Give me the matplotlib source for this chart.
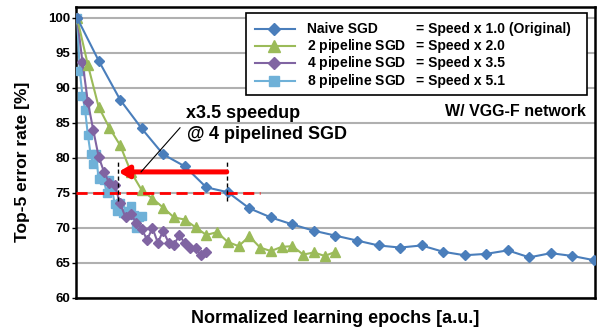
import numpy as np
import matplotlib
matplotlib.use('Agg')
import matplotlib.pyplot as plt
from matplotlib.patches import Rectangle

plt.rcParams['font.family'] = ['Liberation Sans', 'DejaVu Sans']
plt.rcParams['font.weight'] = 'bold'
plt.rcParams['mathtext.fontset'] = 'custom'
plt.rcParams['mathtext.it'] = 'Liberation Sans:italic:bold'
plt.rcParams['mathtext.rm'] = 'Liberation Sans:bold'

# 数据 (epoch 轴为归一化值)
naive = [100, 93.9, 88.3, 84.2, 80.5, 78.8, 75.8, 75.1, 72.8, 71.5, 70.5, 69.6, 68.9,
         68.2, 67.5, 67.2, 67.5, 66.6, 66.1, 66.3, 66.8, 65.8, 66.4, 66.0, 65.4]
pipe2 = [100, 93.3, 87.3, 84.3, 81.8, 78.0, 75.4, 74.2, 72.9, 71.5, 71.2, 70.1, 69.0,
         69.4, 68.0, 67.4, 68.8, 67.2, 66.7, 67.3, 67.4, 66.2, 66.5, 66.0, 66.6]
pipe4 = [100, 93.7, 88.0, 84.0, 80.2, 78.0, 76.4, 76.1, 73.5, 71.5, 72.0, 70.7, 69.9,
         68.3, 70.0, 67.9, 69.6, 67.9, 67.6, 69.0, 67.8, 67.1, 67.1, 66.1, 66.5]
pipe8 = [100, 92.4, 88.9, 86.8, 83.3, 80.6, 79.1, 80.6, 77.0, 77.3, 76.8, 75.0, 76.9,
         75.5, 73.4, 72.4, 73.6, 72.1, 72.1, 72.4, 73.2, 71.8, 70.0, 71.6, 71.7]
ep_naive = np.arange(len(naive)) * 1.0
ep_2 = np.arange(len(pipe2)) * 0.5
ep_4 = np.arange(len(pipe4)) * 0.25
ep_8 = np.arange(len(pipe8)) * 0.125

names = ['Naive SGD', r'$\mathit{2}$ pipeline SGD', r'$\mathit{4}$ pipeline SGD', r'$\mathit{8}$ pipeline SGD']
speeds = ['= Speed x 1.0 (Original)', '= Speed x 2.0', '= Speed x 3.5', '= Speed x 5.1']
colors = ['#4A7EBB', '#9BBB59', '#8064A2', '#6FB1D8']
markers = ['D', '^', 'D', 's']
msizes = [5, 7, 5, 5.5]

fig = plt.figure(figsize=(5.97, 3.28), dpi=100)
ax = fig.add_axes([0.1273, 0.0915, 0.8693, 0.8862])

ax.set_xlim(-0.05, 24.05)
ax.set_ylim(60, 101.5)
ax.set_yticks(np.arange(60, 101, 5))
ax.set_xticks([])
ax.grid(axis='y', color='#b0b0b0', lw=1.5)
ax.set_axisbelow(True)
for s in ax.spines.values():
    s.set_linewidth(1.8)
ax.tick_params(axis='y', direction='out', length=3, width=1, labelsize=9.5, pad=1)
for lab in ax.get_yticklabels():
    lab.set_fontweight('bold')

# 曲线 (后画的在上层)
series = [(ep_naive, naive), (ep_2, pipe2), (ep_4, pipe4), (ep_8, pipe8)]
for (xs, ys), c, m, ms in reversed(list(zip(series, colors, markers, msizes))):
    ax.plot(xs, ys, color=c, marker=m, ms=ms, lw=1.5, mec=c, mfc=c, zorder=3)

# 标注
ax.plot([-0.05, 8.5], [75, 75], color='red', lw=2, dashes=(4, 2), zorder=4)
for xv in [1.92, 6.95]:
    ax.plot([xv, xv], [73.8, 79.5], color='black', lw=1, dashes=(3, 2), zorder=4)
ax.annotate('', xy=(1.92, 78.0), xytext=(6.95, 78.0),
            arrowprops=dict(arrowstyle='-|>,head_length=0.6,head_width=0.35',
                            lw=3.6, color='red', shrinkA=0, shrinkB=0), zorder=5)
ax.plot([2.97, 4.78], [78.0, 84.3], color='black', lw=0.8, zorder=5)
ax.text(5.06, 86.4, 'x3.5 speedup', fontsize=13, fontweight='bold', va='center', ha='left')
ax.text(5.06, 83.4, r'@ $\mathit{4}$ pipelined SGD', fontsize=13, fontweight='bold', va='center', ha='left')
ax.text(0.983, 86.6, 'W/ VGG-F network', transform=ax.get_yaxis_transform(), fontsize=11.5,
        fontweight='bold', va='center', ha='right')

# 图例 (手动绘制以对齐两列)
ax.add_patch(Rectangle((0.327, 0.698), 0.658, 0.281, transform=ax.transAxes,
                       facecolor='white', edgecolor='black', lw=1.2, zorder=6))
rows = [0.925, 0.868, 0.807, 0.747]
for yv, c, m, ms, nm, sp in zip(rows, colors, markers, msizes, names, speeds):
    ax.plot([0.345, 0.422], [yv, yv], color=c, lw=1.5, transform=ax.transAxes, zorder=7, clip_on=False)
    ax.plot([0.382], [yv], color=c, marker=m, ms=ms + 1.5, transform=ax.transAxes, zorder=7, clip_on=False)
    ax.text(0.446, yv, nm, transform=ax.transAxes, fontsize=10, fontweight='bold', va='center', zorder=8)
    ax.text(0.656, yv, sp, transform=ax.transAxes, fontsize=10, fontweight='bold', va='center', zorder=8)

ax.set_ylabel('Top-5 error rate [%]', fontsize=12.5, fontweight='bold')
ax.yaxis.set_label_coords(-0.088, 0.47)
ax.set_xlabel('Normalized learning epochs [a.u.]', fontsize=13, fontweight='bold')
ax.xaxis.set_label_coords(0.5, -0.04)

fig.savefig('out.png', dpi=100)
